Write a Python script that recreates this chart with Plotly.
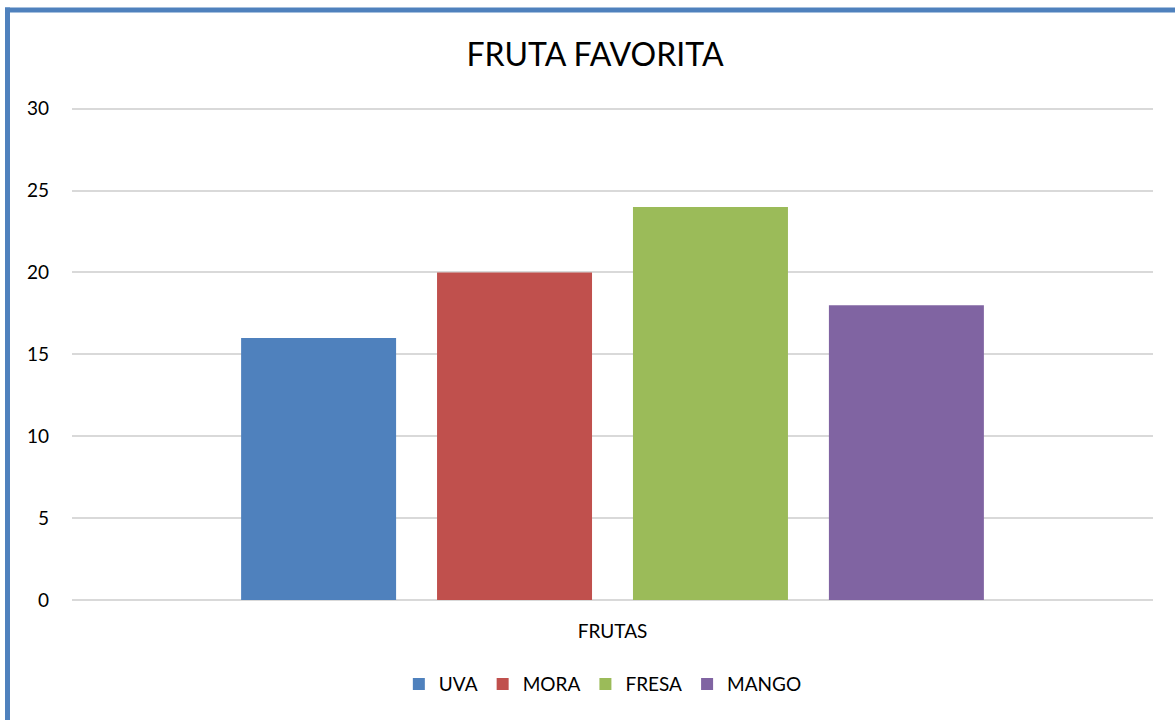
import plotly.graph_objects as go

categories = ["FRUTAS"]
series_names = ["UVA", "MORA", "FRESA", "MANGO"]
series_values = [16, 20, 24, 18]
colors = ["#4F81BD", "#C0504D", "#9BBB59", "#8064A2"]
y_ticks = [0, 5, 10, 15, 20, 25, 30]

W, H = 1175, 720
y_max, y_top_pad = 30, 0.1
plot_left, plot_right, plot_top30, plot_bottom = 72, 1153, 109, 600
px_per_unit = (plot_bottom - plot_top30) / y_max
ml = plot_left
mr = W - plot_right
mb = H - plot_bottom
mt = plot_top30 - y_top_pad * px_per_unit
pw, ph = W - ml - mr, H - mt - mb

fig = go.Figure()
for name, val, col in zip(series_names, series_values, colors):
    fig.add_trace(go.Bar(x=categories, y=[val], name=name, marker_color=col,
                         marker_line_width=0))

def px_x(x):
    return (x - ml) / pw

def px_y(y):
    return (H - mb - y) / ph

border = "#4F81BD"
fig.add_shape(type="line", xref="paper", yref="paper",
              x0=px_x(7.5), x1=px_x(7.5), y0=px_y(8), y1=px_y(740),
              line=dict(color=border, width=5))
fig.add_shape(type="line", xref="paper", yref="paper",
              x0=px_x(5), x1=px_x(1200), y0=px_y(10.5), y1=px_y(10.5),
              line=dict(color=border, width=5))

font = "Lato, Open Sans, sans-serif"
fig.update_layout(
    width=W, height=H,
    margin=dict(l=ml, r=mr, t=mt, b=mb),
    paper_bgcolor="white", plot_bgcolor="white",
    font=dict(family=font, color="#000000", size=19),
    title=dict(text="FRUTA FAVORITA", x=595 / W, xanchor="center",
               y=1 - 55 / H, yanchor="middle",
               font=dict(size=32, family=font, color="#000000")),
    barmode="group", bargap=0.275, bargroupgap=0.209,
    showlegend=True,
    legend=dict(orientation="h", x=577 / W, xanchor="center",
                y=px_y(684), yanchor="middle",
                font=dict(size=19, family=font), itemwidth=30,
                traceorder="normal"),
)
fig.update_yaxes(range=[0, y_max + y_top_pad], tickvals=y_ticks, showgrid=True,
                 gridcolor="#D9D9D9", gridwidth=1.5, zeroline=True,
                 zerolinecolor="#D9D9D9", zerolinewidth=1.5,
                 showline=False, ticks="", ticklabelstandoff=22,
                 tickfont=dict(size=19, family=font), fixedrange=True)
fig.update_xaxes(showgrid=False, showline=False, ticks="",
                 ticklabelstandoff=18,
                 tickfont=dict(size=19, family=font), fixedrange=True)

fig.write_html("out.html", config={"displayModeBar": False},
               post_script="document.body.style.margin='0';")
